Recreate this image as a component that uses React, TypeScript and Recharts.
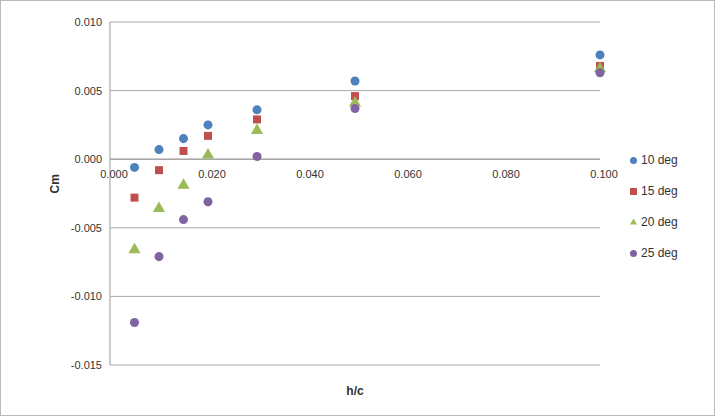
import React from 'react';
import { ScatterChart, Scatter, XAxis, YAxis, ZAxis, CartesianGrid, Legend, ReferenceLine } from 'recharts';

const hc = [0.005, 0.01, 0.015, 0.02, 0.03, 0.05, 0.1];
const cm10 = [-0.0006, 0.0007, 0.0015, 0.0025, 0.0036, 0.0057, 0.0076];
const cm15 = [-0.0028, -0.0008, 0.0006, 0.0017, 0.0029, 0.0046, 0.0068];
const cm20 = [-0.0066, -0.0036, -0.0019, 0.0003, 0.0021, 0.0041, 0.0066];
const cm25 = [-0.0119, -0.0071, -0.0044, -0.0031, 0.0002, 0.0037, 0.0063];
const xTicks = [0, 0.02, 0.04, 0.06, 0.08, 0.1];
const yTicks = [-0.015, -0.01, -0.005, 0, 0.005, 0.01];

const toPts = (ys: number[]) => hc.map((x, i) => ({ x, y: ys[i] }));

const series = [
  { name: '10 deg', data: toPts(cm10), fill: '#4f81bd', shape: 'circle' },
  { name: '15 deg', data: toPts(cm15), fill: '#c0504d', shape: 'square' },
  { name: '20 deg', data: toPts(cm20), fill: '#9bbb59', shape: 'triangle' },
  { name: '25 deg', data: toPts(cm25), fill: '#8064a2', shape: 'circle' },
];

// x labels sit under the zero line, not at the plot bottom
const ZeroTick = (props: any) => {
  const { x, y, payload } = props;
  return (
    <text x={x + 4} y={y - 205} dy={10} textAnchor="middle" fontSize={11} fill="#333">
      {payload.value.toFixed(3)}
    </text>
  );
};

const App: React.FC = () => (
  <div style={{ position: 'absolute', left: 0, top: 0, width: 715, height: 416, fontFamily: 'Liberation Sans, Arial, sans-serif' }}>
    <div style={{ position: 'absolute', inset: 0, border: '1px solid #bbb', boxSizing: 'border-box' }} />
    <ScatterChart width={715} height={416} margin={{ top: 22, right: 35, left: 45, bottom: 21 }}>
      <CartesianGrid vertical={false} stroke="#aaa" />
      <XAxis
        type="number" dataKey="x" domain={[0, 0.1]} ticks={xTicks}
        axisLine={false} tickLine={false} tick={<ZeroTick />} height={30}
        label={{ value: 'h/c', position: 'insideBottom', offset: 0, fontSize: 12, fontWeight: 'bold', fill: '#333' }}
      />
      <YAxis
        type="number" dataKey="y" domain={[-0.015, 0.01]} ticks={yTicks}
        tickFormatter={(v: number) => v.toFixed(3)} stroke="#999" tickLine={false}
        tick={{ fontSize: 11, fill: '#333' }} width={65}
        label={{ value: 'Cm', angle: -90, position: 'insideLeft', offset: 10, fontSize: 12, fontWeight: 'bold', fill: '#333' }}
      />
      <ZAxis range={[22, 22]} />
      <ReferenceLine y={0} stroke="#999" />
      <Legend layout="vertical" align="right" verticalAlign="top" iconSize={7}
        formatter={(v: string) => <span style={{ color: '#333' }}>{v}</span>}
        wrapperStyle={{ fontSize: 12, lineHeight: '31px', left: 630, top: 145, width: 80 }} />
      {series.map(s => (
        <Scatter key={s.name} name={s.name} data={s.data} fill={s.fill} shape={s.shape as any}
          legendType={s.shape as any} isAnimationActive={false} />
      ))}
    </ScatterChart>
  </div>
);

export default App;
